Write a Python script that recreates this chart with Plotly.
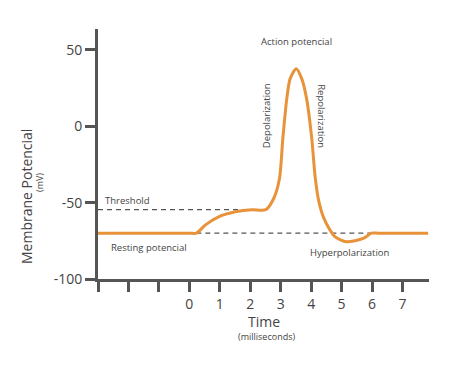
import plotly.graph_objects as go

# Data
time_ms = [-3, -1.5, 0, 0.23, 0.52, 0.96, 1.51, 2.06, 2.51, 2.77, 2.96, 3.07, 3.2, 3.31, 3.51,
           3.69, 3.85, 4.02, 4.13, 4.24, 4.4, 4.62, 4.79, 5.16, 5.71, 5.98, 6.2, 7.0, 7.84]
potential_mv = [-70, -70, -70, -70, -64.7, -59.3, -56, -54.6, -54.6, -47.3, -34.2, -8, 18.1,
                31.2, 37.7, 31.2, 18.1, -8, -33, -48, -59.3, -68, -72.4, -75.6, -73.4, -70,
                -70, -70, -70]

threshold_mv = -54.6
threshold_span = [-3, 2.51]
resting_mv = -70
resting_span = [0.23, 6.0]

x_tick_vals = [-3, -2, -1, 0, 1, 2, 3, 4, 5, 6, 7]
x_tick_text = ["", "", "", "0", "1", "2", "3", "4", "5", "6", "7"]
y_tick_vals = [50, 0, -50, -100]
y_tick_text = ["50", "0", "-50", "-100"]

TXT = "#444444"
AX = "#555555"
FONT = "Open Sans"

fig = go.Figure()
fig.add_trace(go.Scatter(x=threshold_span, y=[threshold_mv] * 2, mode="lines",
                         line=dict(color=AX, width=1.2, dash="5px,4px"), hoverinfo="skip"))
fig.add_trace(go.Scatter(x=resting_span, y=[resting_mv] * 2, mode="lines",
                         line=dict(color=AX, width=1.2, dash="5px,4px"), hoverinfo="skip"))
fig.add_trace(go.Scatter(x=time_ms, y=potential_mv, mode="lines",
                         line=dict(color="#E8923A", width=3, shape="spline", smoothing=0.7)))

# page body has an 8px default margin, so the plot area is offset accordingly
fig.update_layout(
    width=474, height=387,
    margin=dict(l=90, r=53, t=21, b=116, autoexpand=False),
    plot_bgcolor="white", paper_bgcolor="white",
    showlegend=False,
    font=dict(family=FONT, color=TXT),
)
fig.update_xaxes(range=[-3, 7.87], showgrid=False, zeroline=False, automargin=False,
                 showline=True, linecolor=AX, linewidth=3,
                 ticks="outside", ticklen=10, tickwidth=2.5, tickcolor=AX,
                 tickvals=x_tick_vals, ticktext=x_tick_text,
                 tickfont=dict(size=14, color=TXT, family=FONT))
fig.update_yaxes(range=[-100, 63.7], showgrid=False, zeroline=False, automargin=False,
                 showline=True, linecolor=AX, linewidth=3,
                 ticks="outside", ticklen=10, tickwidth=2.5, tickcolor=AX,
                 tickvals=y_tick_vals, ticktext=y_tick_text,
                 tickfont=dict(size=14, color=TXT, family=FONT))

def ann(text, x, y, size=9.5, angle=0, xanchor="center", yanchor="middle",
        xref="x", yref="y"):
    fig.add_annotation(text=text, x=x, y=y, xref=xref, yref=yref, showarrow=False,
                       font=dict(size=size, color=TXT, family=FONT), borderpad=0,
                       textangle=angle, xanchor=xanchor, yanchor=yanchor)

ann("Threshold", -2.79, -48.4, xanchor="left")
ann("Resting potencial", -2.62, -79.5, xanchor="left")
ann("Action potencial", 3.53, 55.7)
ann("Depolarization", 2.52, 6.7, angle=-90)
ann("Repolarization", 4.35, 6.7, angle=90)
ann("Hyperpolarization", 5.26, -82.5)

# Axis titles in paper coordinates (plot area spans screen x 98..429, y 29..279)
ann("Time", (264 - 98) / 331, (279 - 321.5) / 250, size=14,
    xref="paper", yref="paper")
ann("(milliseconds)", (266 - 98) / 331, (279 - 336) / 250, size=9,
    xref="paper", yref="paper")
ann("Membrane Potencial", (27 - 98) / 331, (279 - 197) / 250, size=14, angle=-90,
    xref="paper", yref="paper")
ann("(mV)", (39 - 98) / 331, (279 - 183) / 250, size=9, angle=-90, xref="paper", yref="paper")

fig.write_html("out.html")
